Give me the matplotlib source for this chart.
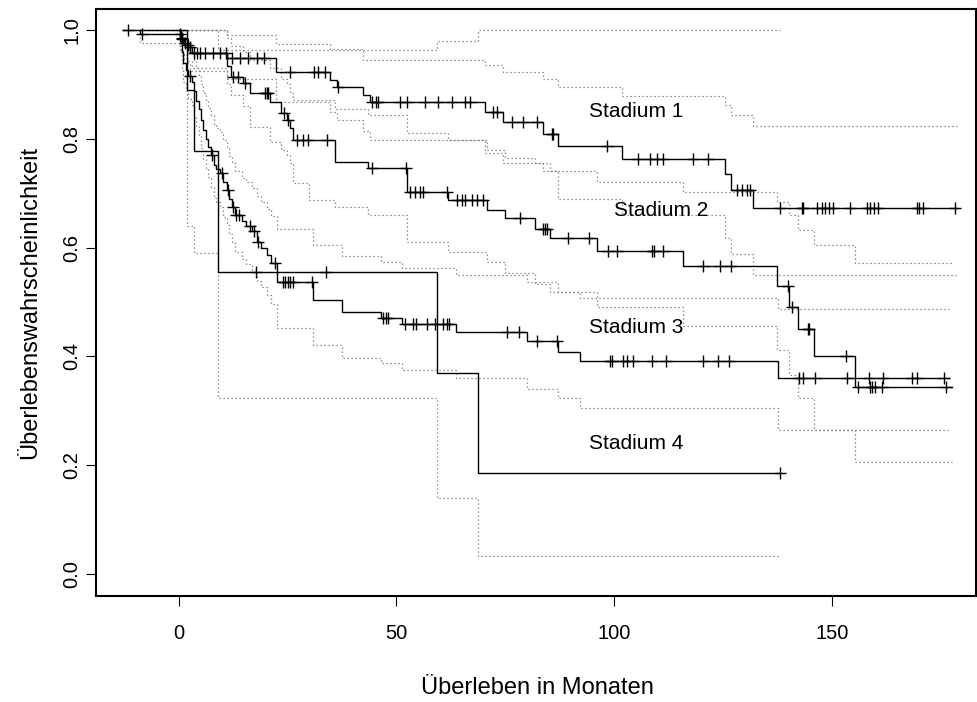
import numpy as np
import matplotlib
matplotlib.use("Agg")
from matplotlib import pyplot as plt

plt.rcParams['font.family'] = ['Liberation Sans', 'DejaVu Sans']

# ---- Kaplan-Meier estimates (time of drop, level after drop) ----
# Stadium 1
s1_start = -8.9
s1_t = [0.5, 1.2, 2.5, 11.0, 22.3, 34.8, 36.3, 42.4, 43.9, 70.4, 74.5, 83.7, 87.1,
        101.8, 125.5, 126.8, 132.0]
s1_s = [0.985, 0.972, 0.958, 0.949, 0.923, 0.908, 0.895, 0.880, 0.868, 0.850, 0.830,
        0.809, 0.787, 0.762, 0.735, 0.706, 0.672]
s1_end = 178.7
s1_cens = [0.7, 2.2, 3.4, 4.1, 4.9, 6.0, 7.9, 9.5, 10.8, 12.3, 14.1, 15.9, 18.0, 19.6,
           25.6, 31.0, 32.0, 33.6, 36.6, 44.5, 45.2, 45.8, 50.8, 52.4, 56.6, 59.6, 62.8,
           65.8, 66.9, 72.2, 73.0, 76.5, 79.0, 82.2, 85.7, 86.0, 98.3, 105.5, 108.2,
           109.8, 111.2, 118.0, 121.6, 128.2, 129.4, 130.5, 131.2, 138.1, 143.1, 143.4,
           146.6, 147.7, 148.4, 149.3, 150.2, 154.2, 158.0, 158.7, 159.6, 160.5, 169.5,
           170.0, 170.9, 178.3]

# Stadium 2
s2_start = -12.8
s2_t = [-8.9, 0.3, 1.0, 2.0, 3.0, 11.0, 12.0, 14.8, 16.4, 21.0, 23.6, 24.8, 25.5, 26.3,
        36.0, 43.5, 52.4, 61.8, 70.8, 75.0, 81.8, 85.3, 96.0, 115.8, 137.4, 140.2,
        142.3, 145.9, 155.3]
s2_s = [0.992, 0.984, 0.976, 0.968, 0.958, 0.933, 0.914, 0.902, 0.885, 0.868, 0.847,
        0.835, 0.820, 0.797, 0.758, 0.746, 0.703, 0.688, 0.670, 0.654, 0.635, 0.617,
        0.594, 0.566, 0.529, 0.491, 0.451, 0.401, 0.344]
s2_end = 177.5
s2_cens = [-11.6, -8.5, 0.2, 0.8, 1.5, 2.5, 12.5, 13.5, 15.2, 19.8, 20.2, 20.5, 24.2,
           25.1, 27.2, 28.6, 29.7, 34.0, 44.3, 52.2, 53.1, 54.3, 55.4, 56.2, 61.6, 63.9,
           65.0, 65.8, 67.3, 68.5, 69.9, 78.4, 83.7, 84.1, 84.5, 89.4, 94.2, 98.6, 100.7,
           108.7, 109.2, 111.2, 120.4, 124.3, 126.9, 140.0, 140.8, 144.5, 144.8, 153.3,
           156.0, 158.8, 159.2, 159.9, 161.5, 176.2]

# Stadium 3
s3_start = 0.0
s3_t = [0.3, 0.7, 1.0, 1.6, 2.2, 3.0, 3.4, 4.0, 4.6, 5.2, 5.6, 6.2, 6.8, 7.4, 8.0, 8.6,
        9.4, 10.2, 11.0, 11.6, 12.2, 13.0, 14.5, 15.5, 16.8, 18.0, 19.0, 20.2, 21.2,
        22.5, 30.9, 37.4, 46.5, 51.2, 63.7, 79.9, 87.0, 92.1, 137.6]
s3_s = [0.98, 0.96, 0.94, 0.926, 0.915, 0.905, 0.887, 0.87, 0.855, 0.835, 0.816, 0.80,
        0.785, 0.77, 0.752, 0.745, 0.737, 0.72, 0.706, 0.69, 0.675, 0.66, 0.648, 0.64,
        0.63, 0.611, 0.60, 0.586, 0.572, 0.536, 0.504, 0.482, 0.471, 0.459, 0.444,
        0.428, 0.409, 0.392, 0.360]
s3_end = 177.0
s3_cens = [2.6, 7.6, 9.9, 11.3, 12.5, 13.2, 13.8, 16.4, 17.2, 18.3, 22.1, 24.0, 24.5,
           25.0, 25.6, 26.3, 30.5, 47.0, 47.5, 48.0, 52.0, 53.8, 54.5, 57.0, 58.9, 60.7,
           61.6, 62.1, 75.3, 78.2, 82.2, 86.8, 99.0, 99.4, 102.1, 102.9, 104.4, 108.6,
           111.9, 120.3, 123.9, 126.4, 142.5, 143.4, 146.2, 153.5, 158.6, 161.8, 168.5,
           169.5, 175.7]

# Stadium 4
s4_start = 0.0
s4_t = [1.9, 3.4, 9.1, 59.4, 68.8]
s4_s = [0.889, 0.778, 0.556, 0.370, 0.185]
s4_end = 138.1
s4_cens = [17.7, 33.8, 138.1]

# ---- confidence bands (time of change, level) ----
u1_t = [11.0, 22.3, 34.8, 42.4, 70.4, 74.5, 83.7, 87.1, 101.8, 125.5, 126.8, 132.0]
u1_v = [0.99, 0.975, 0.965, 0.944, 0.935, 0.923, 0.910, 0.895, 0.879, 0.862, 0.844, 0.824]
l1_t = [0.5, 1.2, 2.5, 11.0, 22.3, 34.8, 36.3, 42.4, 43.9, 70.4, 74.5, 83.7, 87.1,
        101.8, 125.5, 126.8, 132.0]
l1_v = [0.96, 0.94, 0.925, 0.91, 0.868, 0.85, 0.835, 0.815, 0.798, 0.774, 0.755, 0.74,
        0.69, 0.66, 0.617, 0.589, 0.55]

u2_t = [11.0, 12.0, 14.8, 16.4, 21.0, 23.6, 24.8, 25.5, 26.3, 36.0, 43.5, 52.4, 61.8,
        70.8, 75.0, 81.8, 85.3, 96.0, 115.8, 137.4, 140.2, 142.3, 145.9, 155.3]
u2_v = [0.985, 0.97, 0.96, 0.945, 0.93, 0.91, 0.90, 0.885, 0.871, 0.855, 0.844, 0.81,
        0.798, 0.78, 0.765, 0.755, 0.74, 0.721, 0.703, 0.684, 0.66, 0.632, 0.605, 0.571]
l2_t = [-8.9, 0.3, 1.0, 2.0, 3.0, 11.0, 12.0, 14.8, 16.4, 21.0, 23.6, 24.8, 25.5, 26.3,
        30.0, 36.0, 43.5, 52.4, 61.8, 70.8, 75.0, 81.8, 85.3, 96.0, 115.8, 137.4, 140.2,
        142.3, 145.9, 155.3]
l2_v = [0.977, 0.965, 0.955, 0.943, 0.93, 0.90, 0.88, 0.86, 0.822, 0.795, 0.78, 0.77,
        0.755, 0.718, 0.688, 0.675, 0.66, 0.611, 0.592, 0.574, 0.553, 0.534, 0.519, 0.49,
        0.455, 0.412, 0.366, 0.324, 0.265, 0.206]

u3_t = [1.0, 1.6, 2.2, 3.0, 3.4, 4.0, 4.6, 5.2, 5.6, 6.2, 6.8, 7.4, 8.0, 8.6, 9.4, 10.2,
        11.0, 11.6, 12.2, 13.0, 14.5, 15.5, 16.8, 18.0, 19.0, 20.2, 21.2, 22.5, 30.9,
        37.4, 46.5, 51.2, 63.7, 79.9, 87.0, 92.1, 137.6]
u3_v = [0.985, 0.975, 0.965, 0.958, 0.943, 0.93, 0.918, 0.90, 0.885, 0.87, 0.857, 0.843,
        0.827, 0.82, 0.813, 0.797, 0.783, 0.768, 0.755, 0.74, 0.728, 0.72, 0.71, 0.694,
        0.684, 0.671, 0.658, 0.635, 0.605, 0.585, 0.574, 0.562, 0.55, 0.537, 0.519,
        0.507, 0.488]
l3_t = s3_t
l3_v = [0.96, 0.93, 0.905, 0.887, 0.874, 0.862, 0.842, 0.823, 0.806, 0.784, 0.763,
        0.746, 0.729, 0.712, 0.692, 0.684, 0.675, 0.656, 0.641, 0.625, 0.608, 0.592,
        0.579, 0.57, 0.559, 0.538, 0.527, 0.512, 0.497, 0.452, 0.421, 0.398, 0.387,
        0.375, 0.36, 0.341, 0.323, 0.305, 0.265]

u4_t = [9.1, 59.4, 68.8]
u4_v = [0.963, 0.98, 1.0]
l4_t = [1.9, 3.4, 9.1, 59.4, 68.8]
l4_v = [0.64, 0.59, 0.323, 0.139, 0.033]

labels = ['Stadium 1', 'Stadium 2', 'Stadium 3', 'Stadium 4']
label_x = [105, 110.7, 105, 105]
label_y = [0.85, 0.669, 0.454, 0.24]


def steps(start, t, v, end):
    x = [start] + list(t) + [end]
    y = [1.0] + list(v) + [v[-1]]
    return x, y


def level_at(t, v, c):
    i = np.searchsorted(t, c, side='right') - 1
    return 1.0 if i < 0 else v[i]


fig = plt.figure(figsize=(9.77, 7.02), dpi=100)
ax = fig.add_axes([96 / 977, 106 / 702, 880 / 977, 587 / 702])

curves = [(s1_start, s1_t, s1_s, s1_end, s1_cens, u1_t, u1_v, l1_t, l1_v),
          (s2_start, s2_t, s2_s, s2_end, s2_cens, u2_t, u2_v, l2_t, l2_v),
          (s3_start, s3_t, s3_s, s3_end, s3_cens, u3_t, u3_v, l3_t, l3_v),
          (s4_start, s4_t, s4_s, s4_end, s4_cens, u4_t, u4_v, l4_t, l4_v)]

for start, t, s, end, cens, ut, uv, lt, lv in curves:
    # confidence limits
    for ct, cv in [(ut, uv), (lt, lv)]:
        x, y = steps(start, ct, cv, end)
        ax.step(x, y, where='post', color='0.45', lw=0.9,
                linestyle=(0, (1.0, 2.2)), zorder=1)
    x, y = steps(start, t, s, end)
    ax.step(x, y, where='post', color='black', lw=1.0, zorder=3)
    cy = [level_at(t, s, c) for c in cens]
    ax.plot(cens, cy, linestyle='none', marker='+', ms=8, mew=1.0,
            color='black', zorder=4)

for name, lx, ly in zip(labels, label_x, label_y):
    ax.text(lx, ly, name, ha='center', va='center', fontsize=15)

ax.set_xlim(-19.0, 183.1)
ax.set_ylim(-0.0404, 1.0386)
ax.set_xticks([0, 50, 100, 150])
ax.set_yticks([0.0, 0.2, 0.4, 0.6, 0.8, 1.0])
ax.set_yticklabels(['0.0', '0.2', '0.4', '0.6', '0.8', '1.0'],
                   rotation=90, va='center')
ax.tick_params(direction='out', length=7, width=0.8, labelsize=14.5)
ax.tick_params(axis='x', pad=13.5)
ax.tick_params(axis='y', pad=3.5)
for sp in ax.spines.values():
    sp.set_linewidth(1.5)

# axis titles, centred like R's xlab / ylab
fig.text(537 / 977, 1 - 688 / 702, 'Überleben in Monaten', fontsize=17,
         ha='center', va='center')
fig.text(30 / 977, 1 - 302 / 702, 'Überlebenswahrscheinlichkeit', fontsize=17,
         ha='center', va='center', rotation=90)

plt.savefig('out.png', dpi=100)
